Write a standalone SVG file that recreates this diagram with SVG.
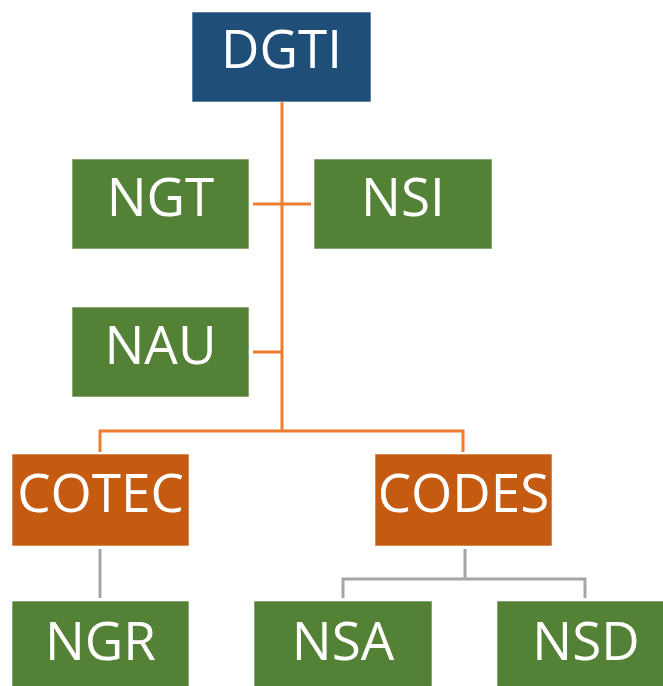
<svg xmlns="http://www.w3.org/2000/svg" width="663" height="686" viewBox="0 0 663 686">
<style>
.box{stroke:#ffffff;stroke-opacity:0.6;stroke-width:1}
.blue{fill:#1F4E79}
.green{fill:#538135}
.orange{fill:#C55A11}
.lbl{font-family:"Open Sans","Noto Sans",sans-serif;font-size:53px;fill:#ffffff;text-anchor:middle}
.oc{stroke:#ED7D31;stroke-width:3;fill:none}
.gc{stroke:#A5A5A5;stroke-width:3;fill:none}
</style>
<rect width="663" height="686" fill="#ffffff"/>
<g id="connectors">
<path class="oc" d="M282,102 V431 M253,204 H311 M253,352 H282 M100,452 V431 H463 V452"/>
<path class="gc" d="M100,549 V598 M465,549 V579 M343,598 V579 H585 V598"/>
</g>
<g id="DGTI"><rect class="box blue" x="192" y="12" width="179" height="90"/><text class="lbl" x="281.5" y="68">DGTI</text></g>
<g id="NGT"><rect class="box green" x="72" y="159" width="177" height="90"/><text class="lbl" x="160.5" y="216">NGT</text></g>
<g id="NSI"><rect class="box green" x="314" y="159" width="178" height="90"/><text class="lbl" x="403" y="216">NSI</text></g>
<g id="NAU"><rect class="box green" x="72" y="307" width="177" height="90"/><text class="lbl" x="160.5" y="364">NAU</text></g>
<g id="COTEC"><rect class="box orange" x="12" y="454" width="177" height="92"/><text class="lbl" x="100.5" y="512">COTEC</text></g>
<g id="CODES"><rect class="box orange" x="375" y="454" width="177" height="92"/><text class="lbl" x="463.5" y="512">CODES</text></g>
<g id="NGR"><rect class="box green" x="12" y="601" width="177" height="92"/><text class="lbl" x="100.5" y="660">NGR</text></g>
<g id="NSA"><rect class="box green" x="254" y="601" width="178" height="92"/><text class="lbl" x="343" y="660">NSA</text></g>
<g id="NSD"><rect class="box green" x="497" y="601" width="178" height="92"/><text class="lbl" x="586" y="660">NSD</text></g>
</svg>
